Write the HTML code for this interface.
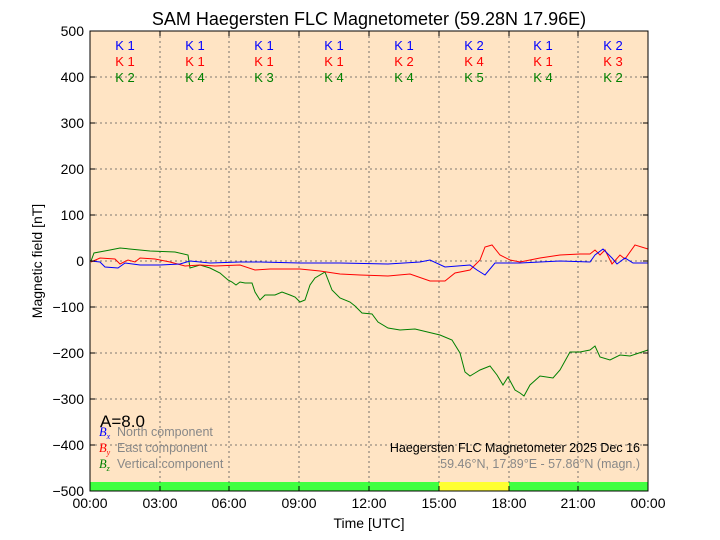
<!DOCTYPE html>
<html><head><meta charset="utf-8"><style>
body{margin:0;background:#fff}
svg{display:block;font-family:"Liberation Sans",sans-serif}
</style></head><body>
<svg width="720" height="540" xmlns="http://www.w3.org/2000/svg">
<rect x="0" y="0" width="720" height="540" fill="#fff"/>
<rect x="90" y="31" width="558" height="460" fill="#ffe4c4"/>
<rect x="90" y="482" width="349" height="9" fill="#40ff40"/>
<rect x="439" y="482" width="70" height="9" fill="#ffff30"/>
<rect x="509" y="482" width="139" height="9" fill="#40ff40"/>
<g stroke="#555" stroke-width="0.8" stroke-dasharray="2,3">
<line x1="160" y1="31" x2="160" y2="491"/><line x1="229" y1="31" x2="229" y2="491"/><line x1="299" y1="31" x2="299" y2="491"/><line x1="369" y1="31" x2="369" y2="491"/><line x1="439" y1="31" x2="439" y2="491"/><line x1="509" y1="31" x2="509" y2="491"/><line x1="578" y1="31" x2="578" y2="491"/>
<line x1="90" y1="77" x2="648" y2="77"/><line x1="90" y1="123" x2="648" y2="123"/><line x1="90" y1="169" x2="648" y2="169"/><line x1="90" y1="215" x2="648" y2="215"/><line x1="90" y1="261" x2="648" y2="261"/><line x1="90" y1="307" x2="648" y2="307"/><line x1="90" y1="353" x2="648" y2="353"/><line x1="90" y1="399" x2="648" y2="399"/><line x1="90" y1="445" x2="648" y2="445"/>
</g>
<g fill="none" stroke-width="1">
<polyline stroke="#008000" points="91,261 94,253 110,250 120,248 150,251 175,252 188,255 190,268 200,265 210,268 220,273 228,280 232,282 236,285 240,282 245,283 252,283 255,292 260,300 265,295 275,295 282,292 290,295 295,297 300,302 305,300 310,285 315,278 325,272 332,290 340,298 350,302 355,306 362,313 372,314 378,322 388,328 400,330 415,329 440,335 452,340 460,353 465,372 470,376 475,373 480,370 490,366 497,375 503,385 508,377 515,390 520,393 524,396 530,385 540,376 553,378 560,370 570,352 580,352 590,350 595,346 600,357 610,360 620,355 630,356 648,350"/>
<polyline stroke="#ff0000" points="91,262 100,258 115,259 120,264 128,260 135,262 140,258 155,259 170,262 185,266 200,265 215,266 240,265 255,270 270,269 300,269 320,271 340,274 360,275 388,276 410,274 430,281 445,281 455,273 470,270 480,260 485,247 492,245 500,255 510,260 520,262 540,258 560,255 580,254 590,254 595,250 600,255 605,250 612,264 620,255 625,259 635,245 648,249"/>
<polyline stroke="#0000ff" points="91,261 100,262 105,267 118,268 125,263 140,265 160,265 180,264 190,261 210,263 240,262 260,262 300,263 340,263 388,264 420,262 430,260 445,267 470,265 477,270 485,275 495,263 520,263 560,261 590,262 595,255 603,249 612,258 617,264 625,258 633,263 648,263"/>
</g>
<rect x="90" y="31" width="558" height="460" fill="none" stroke="#000" stroke-width="1"/>
<g stroke="#000" stroke-width="1">
<line x1="160" y1="491" x2="160" y2="486"/><line x1="229" y1="491" x2="229" y2="486"/><line x1="299" y1="491" x2="299" y2="486"/><line x1="369" y1="491" x2="369" y2="486"/><line x1="439" y1="491" x2="439" y2="486"/><line x1="509" y1="491" x2="509" y2="486"/><line x1="578" y1="491" x2="578" y2="486"/>
<line x1="160" y1="31" x2="160" y2="36"/><line x1="229" y1="31" x2="229" y2="36"/><line x1="299" y1="31" x2="299" y2="36"/><line x1="369" y1="31" x2="369" y2="36"/><line x1="439" y1="31" x2="439" y2="36"/><line x1="509" y1="31" x2="509" y2="36"/><line x1="578" y1="31" x2="578" y2="36"/>
<line x1="90" y1="77" x2="95" y2="77"/><line x1="90" y1="123" x2="95" y2="123"/><line x1="90" y1="169" x2="95" y2="169"/><line x1="90" y1="215" x2="95" y2="215"/><line x1="90" y1="261" x2="95" y2="261"/><line x1="90" y1="307" x2="95" y2="307"/><line x1="90" y1="353" x2="95" y2="353"/><line x1="90" y1="399" x2="95" y2="399"/><line x1="90" y1="445" x2="95" y2="445"/>
<line x1="648" y1="77" x2="643" y2="77"/><line x1="648" y1="123" x2="643" y2="123"/><line x1="648" y1="169" x2="643" y2="169"/><line x1="648" y1="215" x2="643" y2="215"/><line x1="648" y1="261" x2="643" y2="261"/><line x1="648" y1="307" x2="643" y2="307"/><line x1="648" y1="353" x2="643" y2="353"/><line x1="648" y1="399" x2="643" y2="399"/><line x1="648" y1="445" x2="643" y2="445"/>
</g>
<g font-size="14" text-anchor="end">
<text x="84" y="36">500</text><text x="84" y="82">400</text><text x="84" y="128">300</text><text x="84" y="174">200</text><text x="84" y="220">100</text><text x="84" y="266">0</text><text x="84" y="312">−100</text><text x="84" y="358">−200</text><text x="84" y="404">−300</text><text x="84" y="450">−400</text><text x="84" y="496">−500</text>
</g>
<g font-size="14" text-anchor="middle">
<text x="90" y="508">00:00</text><text x="160" y="508">03:00</text><text x="229" y="508">06:00</text><text x="299" y="508">09:00</text><text x="369" y="508">12:00</text><text x="439" y="508">15:00</text><text x="509" y="508">18:00</text><text x="578" y="508">21:00</text><text x="648" y="508">00:00</text>
<text x="369" y="528">Time [UTC]</text>
<text x="369" y="25" font-size="18">SAM Haegersten FLC Magnetometer (59.28N 17.96E)</text>
<text x="42" y="261" transform="rotate(-90 42 261)">Magnetic field [nT]</text>
</g>
<g font-size="13" text-anchor="middle">
<g fill="#0000ff"><text x="125" y="50">K 1</text><text x="195" y="50">K 1</text><text x="264" y="50">K 1</text><text x="334" y="50">K 1</text><text x="404" y="50">K 1</text><text x="474" y="50">K 2</text><text x="543" y="50">K 1</text><text x="613" y="50">K 2</text></g>
<g fill="#ff0000"><text x="125" y="66">K 1</text><text x="195" y="66">K 1</text><text x="264" y="66">K 1</text><text x="334" y="66">K 1</text><text x="404" y="66">K 2</text><text x="474" y="66">K 4</text><text x="543" y="66">K 1</text><text x="613" y="66">K 3</text></g>
<g fill="#008000"><text x="125" y="82">K 2</text><text x="195" y="82">K 4</text><text x="264" y="82">K 3</text><text x="334" y="82">K 4</text><text x="404" y="82">K 4</text><text x="474" y="82">K 5</text><text x="543" y="82">K 4</text><text x="613" y="82">K 2</text></g>
</g>
<text x="100" y="427" font-size="17">A=8.0</text>
<g font-size="12.5">
<text x="99" y="436" fill="#0000ff" font-family="Liberation Serif" font-style="italic">B<tspan font-size="8" dy="3">x</tspan></text>
<text x="117" y="436" fill="#888">North component</text>
<text x="99" y="452" fill="#ff0000" font-family="Liberation Serif" font-style="italic">B<tspan font-size="8" dy="3">y</tspan></text>
<text x="117" y="452" fill="#888">East component</text>
<text x="99" y="468" fill="#008000" font-family="Liberation Serif" font-style="italic">B<tspan font-size="8" dy="3">z</tspan></text>
<text x="117" y="468" fill="#888">Vertical component</text>
<text x="640" y="452" text-anchor="end">Haegersten FLC Magnetometer 2025 Dec 16</text>
<text x="640" y="468" text-anchor="end" fill="#888">59.46°N, 17.89°E - 57.86°N (magn.)</text>
</g>
</svg>
</body></html>
